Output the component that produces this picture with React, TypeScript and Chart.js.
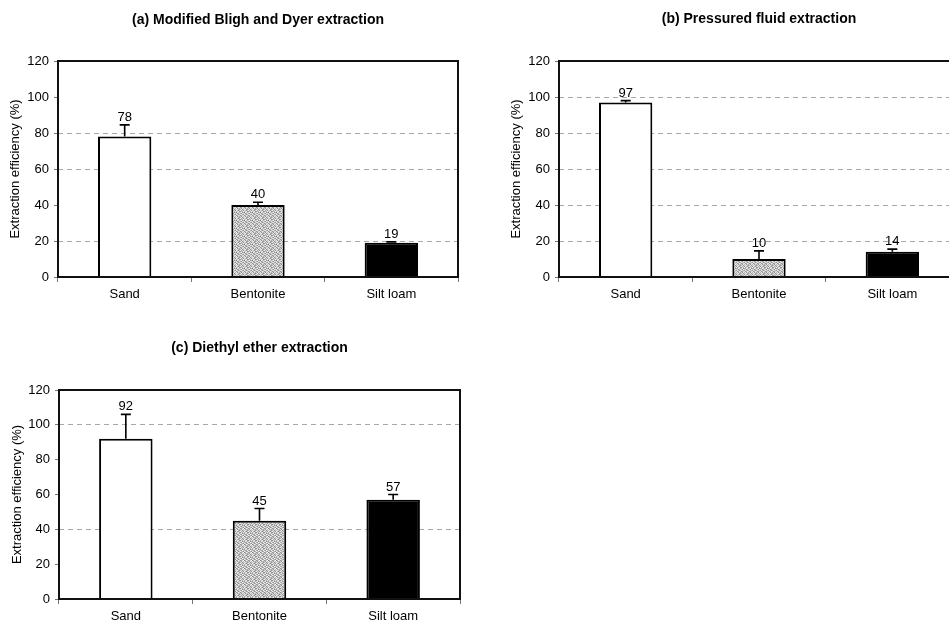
import React, { useEffect, useRef } from "react";
import { Chart, registerables } from "chart.js";

Chart.register(...registerables);

const categories = ["Sand", "Bentonite", "Silt loam"];
const yAxisTitle = "Extraction efficiency (%)";
const yMin = 0;
const yMax = 120;
const yStep = 20;

const titleA = "(a) Modified Bligh and Dyer extraction";
const valuesA = [78, 40, 19];
const errorsA = [6.5, 1.5, 0.5];
const gridA = [20, 60, 80];

const titleB = "(b) Pressured fluid extraction";
const valuesB = [97, 10, 14];
const errorsB = [1, 4.5, 1.5];
const gridB = [20, 40, 60, 80, 100];

const titleC = "(c) Diethyl ether extraction";
const valuesC = [92, 45, 57];
const errorsC = [14, 7, 3];
const gridC = [40, 100];

const FONT = "'Liberation Sans', Arial, sans-serif";

type Panel = {
  title: string;
  values: number[];
  errors: number[];
  grid: number[];
  left: number;
  top: number;
  width: number;
  height: number;
  padTop: number;
  padRight: number;
  yWidth: number;
  xHeight: number;
  titleY: number;
  yTitlePad: number;
};

const panels: Panel[] = [
  { title: titleA, values: valuesA, errors: errorsA, grid: gridA, left: 0, top: 0, width: 470, height: 307, padTop: 61, padRight: 12, yWidth: 58, xHeight: 30, titleY: 20, yTitlePad: 8 },
  { title: titleB, values: valuesB, errors: errorsB, grid: gridB, left: 501, top: 0, width: 470, height: 307, padTop: 61, padRight: 12, yWidth: 58, xHeight: 30, titleY: 19, yTitlePad: 8 },
  { title: titleC, values: valuesC, errors: errorsC, grid: gridC, left: 0, top: 329, width: 470, height: 296, padTop: 61, padRight: 10, yWidth: 59, xHeight: 26, titleY: 19, yTitlePad: 10 },
];

// speckle levels for the grey bar fill (0 = dark, 3 = light)
const speckle = [
  "20313021",
  "13022310",
  "31203102",
  "02131230",
  "23010321",
  "10322013",
  "32103201",
  "01230132",
];
const speckleShades = ["#8f8f8f", "#b4b4b4", "#d2d2d2", "#ececec"];

function makeDither(): CanvasPattern | string {
  const c = document.createElement("canvas");
  c.width = 8;
  c.height = 8;
  const g = c.getContext("2d");
  if (!g) return "#c4c4c4";
  for (let y = 0; y < 8; y++) {
    for (let x = 0; x < 8; x++) {
      g.fillStyle = speckleShades[Number(speckle[y][x])];
      g.fillRect(x, y, 1, 1);
    }
  }
  const p = g.createPattern(c, "repeat");
  return p || "#c4c4c4";
}

function PanelChart({ p }: { p: Panel }) {
  const ref = useRef<HTMLCanvasElement | null>(null);
  useEffect(() => {
    if (!ref.current) return;
    const dither = makeDither();
    const errors = p.errors;
    const overlay = {
      id: "overlay",
      afterDatasetsDraw(chart: any) {
        const ctx = chart.ctx;
        const meta = chart.getDatasetMeta(0);
        const ys = chart.scales.y;
        ctx.save();
        meta.data.forEach((el: any, i: number) => {
          const v = p.values[i];
          const capY = ys.getPixelForValue(v + errors[i]);
          const x = el.x;
          ctx.strokeStyle = "#000";
          ctx.lineWidth = 1.6;
          ctx.beginPath();
          ctx.moveTo(x, el.y);
          ctx.lineTo(x, capY);
          ctx.moveTo(x - 5, capY);
          ctx.lineTo(x + 5, capY);
          ctx.stroke();
          ctx.fillStyle = "#000";
          ctx.font = `13px ${FONT}`;
          ctx.textAlign = "center";
          ctx.textBaseline = "bottom";
          ctx.fillText(String(v), x, capY - 1);
        });
        ctx.restore();
      },
      afterDraw(chart: any) {
        const ctx = chart.ctx;
        const a = chart.chartArea;
        ctx.save();
        ctx.strokeStyle = "#111";
        ctx.lineWidth = 2;
        ctx.strokeRect(a.left, a.top, a.right - a.left, a.bottom - a.top);
        ctx.fillStyle = "#000";
        ctx.font = `bold 14px ${FONT}`;
        ctx.textAlign = "center";
        ctx.textBaseline = "middle";
        ctx.fillText(p.title, (a.left + a.right) / 2, p.titleY);
        ctx.restore();
      },
    };
    const chart = new Chart(ref.current, {
      type: "bar",
      data: {
        labels: categories,
        datasets: [
          {
            data: p.values,
            backgroundColor: ["#ffffff", dither as any, "#000000"],
            borderColor: "#000",
            borderWidth: 2,
            categoryPercentage: 1,
            barPercentage: 0.4,
          },
        ],
      },
      options: {
        animation: false,
        responsive: false,
        devicePixelRatio: 1,
        layout: { padding: { top: p.padTop, right: p.padRight, left: 0, bottom: 0 } },
        plugins: { legend: { display: false }, tooltip: { enabled: false }, title: { display: false } },
        scales: {
          x: {
            type: "category",
            offset: true,
            afterFit: (s: any) => {
              s.height = p.xHeight;
            },
            border: { display: false },
            grid: {
              display: true,
              offset: true,
              drawOnChartArea: false,
              drawTicks: true,
              tickLength: 5,
              tickColor: "#777",
            },
            ticks: { color: "#000", font: { family: FONT, size: 13 }, padding: 5, maxRotation: 0 },
          },
          y: {
            min: yMin,
            max: yMax,
            afterFit: (s: any) => {
              s.width = p.yWidth;
            },
            border: { display: false, dash: [5, 4] },
            grid: {
              color: (c: any) => (p.grid.includes(c.tick?.value) ? "#a8a8a8" : "rgba(0,0,0,0)"),
              lineWidth: 1,
              drawTicks: true,
              tickLength: 4,
              tickColor: "#777",
              tickBorderDash: [],
            } as any,
            ticks: { stepSize: yStep, color: "#000", font: { family: FONT, size: 13 }, padding: 5 },
            title: {
              display: true,
              text: yAxisTitle,
              color: "#000",
              font: { family: FONT, size: 13 },
              padding: { top: p.yTitlePad, bottom: 0 },
            },
          },
        },
      } as any,
      plugins: [overlay],
    });
    return () => chart.destroy();
  }, [p]);
  return (
    <canvas
      ref={ref}
      width={p.width}
      height={p.height}
      style={{ position: "absolute", left: p.left, top: p.top, width: p.width, height: p.height }}
    />
  );
}

export default function App() {
  return (
    <div
      style={{
        position: "fixed",
        left: 0,
        top: 0,
        width: 949,
        height: 625,
        overflow: "hidden",
        background: "#fff",
      }}
    >
      {panels.map((p, i) => (
        <PanelChart key={i} p={p} />
      ))}
    </div>
  );
}
